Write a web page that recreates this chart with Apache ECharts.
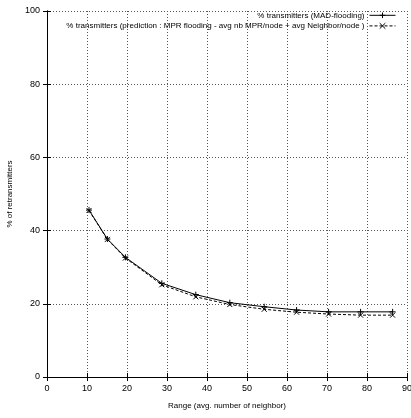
<!DOCTYPE html>
<html>
<head>
<meta charset="utf-8">
<script src="https://cdn.jsdelivr.net/npm/echarts@6/dist/echarts.min.js"></script>
<style>
  html, body { margin: 0; padding: 0; background: #fff; }
  #chart { width: 411px; height: 418px; }
</style>
</head>
<body>
<div id="chart"></div>
<script>
// Average neighbour count per node at each radio range
const neighbors = [10.5, 15.1, 19.6, 28.7, 37.2, 45.7, 54.3, 62.4, 70.4, 78.4, 86.4];
// Measured share of retransmitting nodes
const madFlooding = [45.6, 37.7, 32.7, 25.6, 22.5, 20.3, 19.2, 18.3, 17.8, 17.8, 17.8];
// Predicted share from MPR flooding statistics
const prediction = [45.5, 37.6, 32.5, 25.2, 21.9, 19.8, 18.5, 17.7, 17.2, 16.9, 16.9];

const seriesNames = [
  '% transmitters (MAD-flooding)',
  '% transmitters (prediction : MPR flooding - avg nb MPR/node + avg Neighbor/node )'
];
const xTitle = 'Range (avg. number of neighbor)';
const yTitle = '% of retransmitters';

const font = '"Liberation Sans", Arial, sans-serif';
const plus = 'path://M0,5L10,5M5,0L5,10';
const cross = 'path://M0,0L10,10M10,0L0,10';

const pair = (xs, ys) => xs.map((x, i) => [x, ys[i]]);

const gridLine = { show: true, lineStyle: { color: '#555', type: [1, 2], width: 1 } };
const tick = { show: true, inside: true, length: 4, lineStyle: { color: '#000' } };
const axisLine = { show: true, lineStyle: { color: '#000', width: 1 } };

const chart = echarts.init(document.getElementById('chart'));
chart.setOption({
  animation: false,
  textStyle: { fontFamily: font },
  grid: { left: 47, right: 4, top: 11, bottom: 41, containLabel: false, outerBoundsMode: 'none' },
  legend: {
    right: 10, top: 5, orient: 'vertical', align: 'right',
    itemGap: 0, itemWidth: 26, itemHeight: 7,
    lineStyle: { width: 1 },
    itemStyle: { borderWidth: 1 },
    textStyle: { fontSize: 8, color: '#000', fontFamily: font, lineHeight: 9, padding: [0, 0, 0, 0] },
    data: seriesNames
  },
  xAxis: [{
    type: 'value', min: 0, max: 90, interval: 10,
    name: xTitle, nameLocation: 'middle', nameGap: 25,
    nameTextStyle: { fontSize: 8, color: '#000' },
    axisLine, axisTick: tick, splitLine: gridLine,
    axisLabel: { fontSize: 9, color: '#000', margin: 7 }
  }, {
    type: 'value', min: 0, max: 90, interval: 10, position: 'top',
    axisLine, axisTick: tick, axisLabel: { show: false }, splitLine: { show: false }
  }],
  yAxis: [{
    type: 'value', min: 0, max: 100, interval: 20,
    name: yTitle, nameLocation: 'middle', nameGap: 31,
    nameTextStyle: { fontSize: 8, color: '#000' },
    axisLine, axisTick: tick, splitLine: gridLine,
    axisLabel: { fontSize: 9, color: '#000', margin: 7 }
  }, {
    type: 'value', min: 0, max: 100, interval: 20, position: 'right',
    axisLine, axisTick: tick, axisLabel: { show: false }, splitLine: { show: false }
  }],
  series: [{
    name: seriesNames[0], type: 'line', data: pair(neighbors, madFlooding),
    symbol: plus, symbolSize: 6, showSymbol: true,
    lineStyle: { color: '#000', width: 1 },
    itemStyle: { color: 'none', borderColor: '#000', borderWidth: 1 }
  }, {
    name: seriesNames[1], type: 'line', data: pair(neighbors, prediction),
    symbol: cross, symbolSize: 5, showSymbol: true,
    lineStyle: { color: '#000', width: 1, type: [3, 2] },
    itemStyle: { color: 'none', borderColor: '#000', borderWidth: 1 }
  }]
});
</script>
</body>
</html>
